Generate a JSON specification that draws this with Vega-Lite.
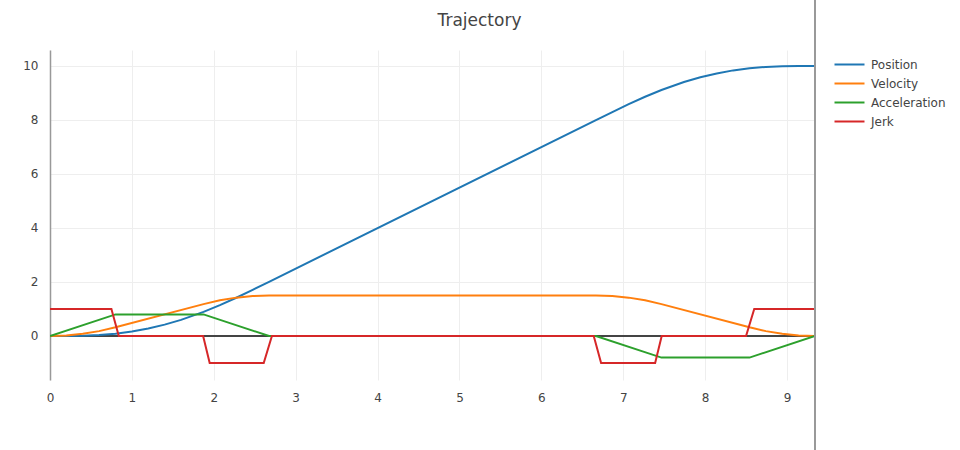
{
  "$schema": "https://vega.github.io/schema/vega-lite/v6.json",
  "autosize": "none",
  "padding": {"left": 50, "top": 50, "right": 145, "bottom": 70},
  "width": 765,
  "height": 330,
  "background": "white",
  "title": {
    "text": "Trajectory",
    "font": "DejaVu Sans",
    "fontSize": 17,
    "fontWeight": "normal",
    "color": "#444",
    "anchor": "middle",
    "frame": "group",
    "baseline": "alphabetic",
    "dx": 47,
    "dy": 44,
    "offset": 0
  },
  "config": {
    "view": {"stroke": null},
    "font": "DejaVu Sans",
    "axis": {
      "labelFont": "DejaVu Sans",
      "labelFontSize": 12,
      "labelColor": "#444",
      "gridColor": "#eee",
      "gridWidth": 1,
      "ticks": false,
      "labelFlush": false,
      "title": null
    }
  },
  "data": {
    "values": [
      {"time": 0, "value": 0, "series": "Position"},
      {"time": 0.2, "value": 0.0013, "series": "Position"},
      {"time": 0.4, "value": 0.0107, "series": "Position"},
      {"time": 0.6, "value": 0.036, "series": "Position"},
      {"time": 0.8, "value": 0.0853, "series": "Position"},
      {"time": 1.0, "value": 0.165, "series": "Position"},
      {"time": 1.2, "value": 0.277, "series": "Position"},
      {"time": 1.4, "value": 0.421, "series": "Position"},
      {"time": 1.6, "value": 0.597, "series": "Position"},
      {"time": 1.875, "value": 0.892, "series": "Position"},
      {"time": 2.075, "value": 1.142, "series": "Position"},
      {"time": 2.275, "value": 1.417, "series": "Position"},
      {"time": 2.475, "value": 1.708, "series": "Position"},
      {"time": 2.675, "value": 2.006, "series": "Position"},
      {"time": 6.667, "value": 7.994, "series": "Position"},
      {"time": 6.867, "value": 8.292, "series": "Position"},
      {"time": 7.067, "value": 8.583, "series": "Position"},
      {"time": 7.267, "value": 8.858, "series": "Position"},
      {"time": 7.467, "value": 9.108, "series": "Position"},
      {"time": 7.742, "value": 9.403, "series": "Position"},
      {"time": 7.942, "value": 9.579, "series": "Position"},
      {"time": 8.142, "value": 9.723, "series": "Position"},
      {"time": 8.342, "value": 9.835, "series": "Position"},
      {"time": 8.542, "value": 9.915, "series": "Position"},
      {"time": 8.742, "value": 9.964, "series": "Position"},
      {"time": 8.942, "value": 9.989, "series": "Position"},
      {"time": 9.142, "value": 9.999, "series": "Position"},
      {"time": 9.342, "value": 10, "series": "Position"},

      {"time": 0, "value": 0, "series": "Velocity"},
      {"time": 0.2, "value": 0.02, "series": "Velocity"},
      {"time": 0.4, "value": 0.08, "series": "Velocity"},
      {"time": 0.6, "value": 0.18, "series": "Velocity"},
      {"time": 0.8, "value": 0.32, "series": "Velocity"},
      {"time": 1.875, "value": 1.18, "series": "Velocity"},
      {"time": 2.075, "value": 1.32, "series": "Velocity"},
      {"time": 2.275, "value": 1.42, "series": "Velocity"},
      {"time": 2.475, "value": 1.48, "series": "Velocity"},
      {"time": 2.675, "value": 1.5, "series": "Velocity"},
      {"time": 6.667, "value": 1.5, "series": "Velocity"},
      {"time": 6.867, "value": 1.48, "series": "Velocity"},
      {"time": 7.067, "value": 1.42, "series": "Velocity"},
      {"time": 7.267, "value": 1.32, "series": "Velocity"},
      {"time": 7.467, "value": 1.18, "series": "Velocity"},
      {"time": 8.542, "value": 0.32, "series": "Velocity"},
      {"time": 8.742, "value": 0.18, "series": "Velocity"},
      {"time": 8.942, "value": 0.08, "series": "Velocity"},
      {"time": 9.142, "value": 0.02, "series": "Velocity"},
      {"time": 9.342, "value": 0, "series": "Velocity"},

      {"time": 0, "value": 0, "series": "Acceleration"},
      {"time": 0.8, "value": 0.8, "series": "Acceleration"},
      {"time": 1.875, "value": 0.8, "series": "Acceleration"},
      {"time": 2.675, "value": 0, "series": "Acceleration"},
      {"time": 6.667, "value": 0, "series": "Acceleration"},
      {"time": 7.467, "value": -0.8, "series": "Acceleration"},
      {"time": 8.542, "value": -0.8, "series": "Acceleration"},
      {"time": 9.342, "value": 0, "series": "Acceleration"},

      {"time": 0, "value": 1, "series": "Jerk"},
      {"time": 0.75, "value": 1, "series": "Jerk"},
      {"time": 0.84, "value": 0, "series": "Jerk"},
      {"time": 1.87, "value": 0, "series": "Jerk"},
      {"time": 1.95, "value": -1, "series": "Jerk"},
      {"time": 2.61, "value": -1, "series": "Jerk"},
      {"time": 2.71, "value": 0, "series": "Jerk"},
      {"time": 6.64, "value": 0, "series": "Jerk"},
      {"time": 6.73, "value": -1, "series": "Jerk"},
      {"time": 7.39, "value": -1, "series": "Jerk"},
      {"time": 7.47, "value": 0, "series": "Jerk"},
      {"time": 8.5, "value": 0, "series": "Jerk"},
      {"time": 8.6, "value": 1, "series": "Jerk"},
      {"time": 9.342, "value": 1, "series": "Jerk"}
    ]
  },
  "encoding": {
    "x": {
      "field": "time",
      "type": "quantitative",
      "scale": {"domain": [0, 9.342], "nice": false, "zero": false},
      "axis": {"values": [0, 1, 2, 3, 4, 5, 6, 7, 8, 9], "domain": false, "labelPadding": 12, "format": "d"}
    },
    "y": {
      "field": "value",
      "type": "quantitative",
      "scale": {"domain": [-1.63, 10.59], "nice": false, "zero": false},
      "axis": {"values": [0, 2, 4, 6, 8, 10], "domain": true, "domainColor": "#999", "domainWidth": 1.5, "labelPadding": 12, "format": "d"}
    }
  },
  "layer": [
    {
      "mark": {"type": "rule", "color": "#444", "strokeWidth": 1},
      "encoding": {"y": {"datum": 0}, "x": null}
    },
    {
      "mark": {"type": "line", "strokeWidth": 2, "clip": true},
      "encoding": {
        "color": {
          "field": "series",
          "type": "nominal",
          "scale": {
            "domain": ["Position", "Velocity", "Acceleration", "Jerk"],
            "range": ["#1f77b4", "#ff7f0e", "#2ca02c", "#d62728"]
          },
          "legend": {
            "title": null,
            "orient": "none",
            "legendX": 791,
            "legendY": 6,
            "symbolType": "M-2,0H2",
            "symbolSize": 225,
            "symbolStrokeWidth": 2,
            "labelFont": "DejaVu Sans",
            "labelFontSize": 12,
            "labelColor": "#444",
            "labelOffset": 13,
            "rowPadding": 4,
            "padding": 0
          }
        }
      }
    },
    {
      "mark": {"type": "rule", "color": "#999", "strokeWidth": 1, "clip": false},
      "encoding": {"x": {"datum": 9.342}, "y": {"datum": 12.45}, "y2": {"datum": -4.25}}
    }
  ]
}
